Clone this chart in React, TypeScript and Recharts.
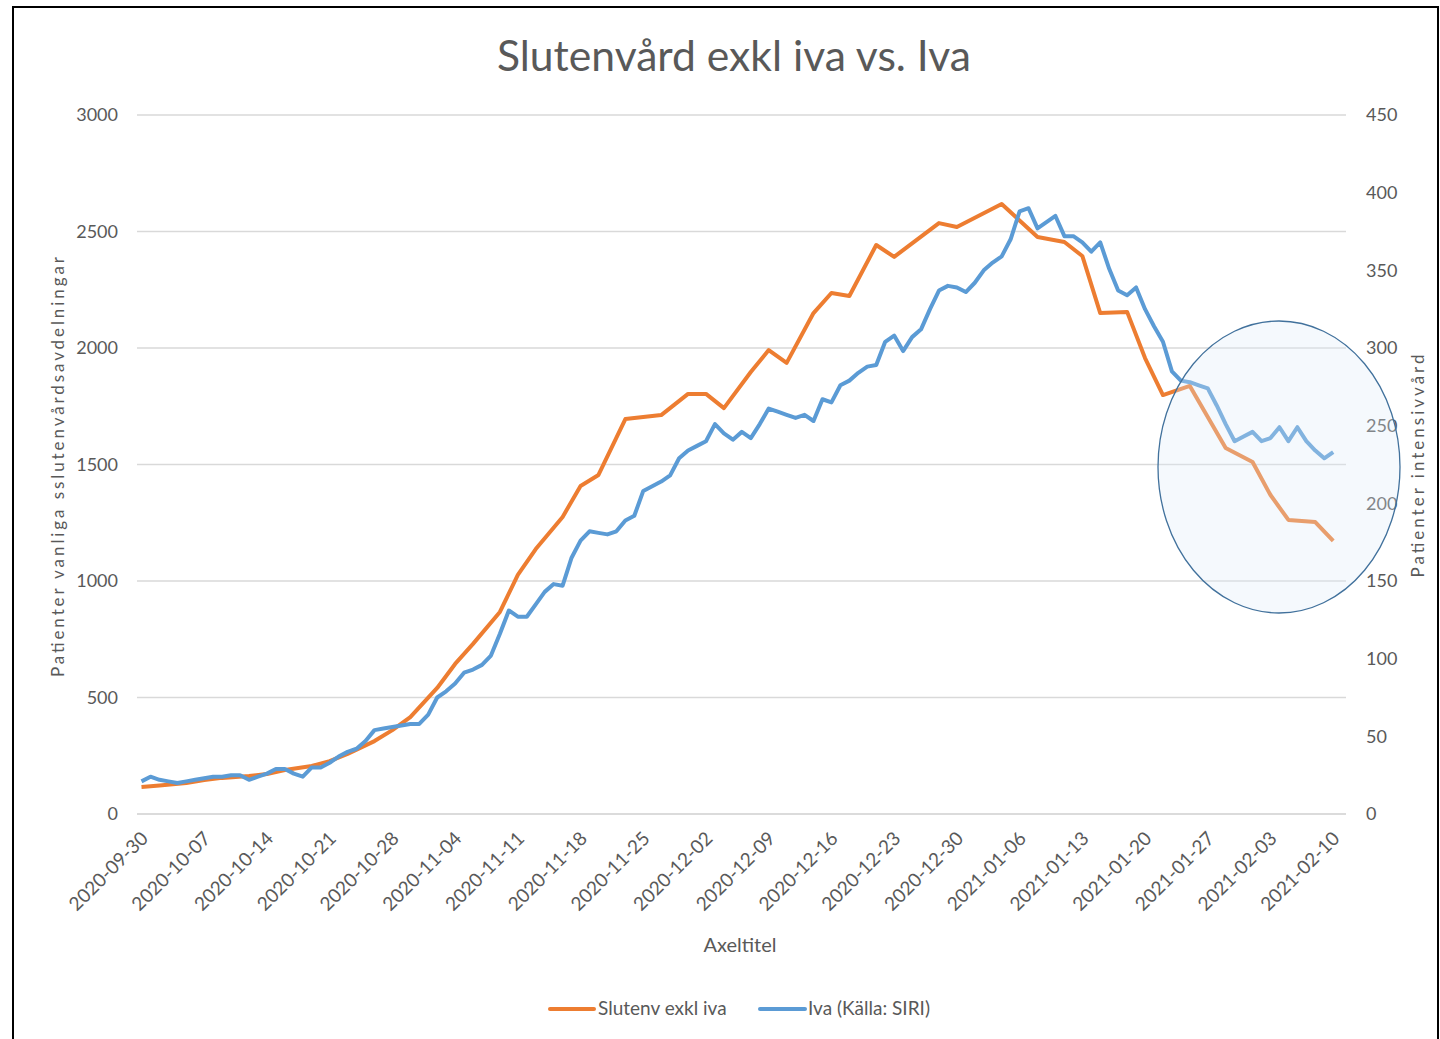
import React from 'react';
import { LineChart, Line, XAxis, YAxis, CartesianGrid } from 'recharts';

// one category per day, 2020-09-30 .. 2021-02-10
const dates: string[] = [];
for (let d = new Date(Date.UTC(2020, 8, 30)); d <= new Date(Date.UTC(2021, 1, 10)); d.setUTCDate(d.getUTCDate() + 1)) {
  dates.push(d.toISOString().slice(0, 10));
}

const tickDates = [
  '2020-09-30', '2020-10-07', '2020-10-14', '2020-10-21', '2020-10-28', '2020-11-04', '2020-11-11',
  '2020-11-18', '2020-11-25', '2020-12-02', '2020-12-09', '2020-12-16', '2020-12-23', '2020-12-30',
  '2021-01-06', '2021-01-13', '2021-01-20', '2021-01-27', '2021-02-03', '2021-02-10',
];

const leftTicks = [0, 500, 1000, 1500, 2000, 2500, 3000];
const rightTicks = [0, 50, 100, 150, 200, 250, 300, 350, 400, 450];

// Slutenvård exkl iva – reported on Mon/Wed/Fri only
const slutenvDates = [
  '2020-09-30', '2020-10-02', '2020-10-05', '2020-10-07', '2020-10-09', '2020-10-12', '2020-10-14',
  '2020-10-16', '2020-10-19', '2020-10-21', '2020-10-23', '2020-10-26', '2020-10-28', '2020-10-30',
  '2020-11-02', '2020-11-04', '2020-11-06', '2020-11-09', '2020-11-11', '2020-11-13', '2020-11-16',
  '2020-11-18', '2020-11-20', '2020-11-23', '2020-11-25', '2020-11-27', '2020-11-30', '2020-12-02',
  '2020-12-04', '2020-12-07', '2020-12-09', '2020-12-11', '2020-12-14', '2020-12-16', '2020-12-18',
  '2020-12-21', '2020-12-23', '2020-12-28', '2020-12-30', '2021-01-04', '2021-01-08', '2021-01-11',
  '2021-01-13', '2021-01-15', '2021-01-18', '2021-01-20', '2021-01-22', '2021-01-25', '2021-01-29',
  '2021-02-01', '2021-02-03', '2021-02-05', '2021-02-08', '2021-02-10',
];
const slutenvValues = [
  116, 122, 133, 146, 155, 163, 172,
  189, 206, 227, 258, 313, 360, 416,
  541, 644, 730, 867, 1026, 1137, 1275,
  1408, 1455, 1695, 1704, 1712, 1803, 1803,
  1742, 1897, 1991, 1936, 2150, 2236, 2223,
  2442, 2391, 2536, 2519, 2618, 2476, 2455,
  2395, 2150, 2155, 1957, 1798, 1837, 1571,
  1511, 1369, 1262, 1253, 1172,
];

// Iva (Källa: SIRI) – daily
const ivaValues = [
  21, 24, 22, 21, 20, 21, 22, 23, 24, 24, 25, 25, 22, 24,
  26, 29, 29, 26, 24, 30, 30, 33, 37, 40, 42, 47, 54, 55,
  56, 57, 58, 58, 64, 75, 79, 84, 91, 93, 96, 102, 116, 131,
  127, 127, 135, 143, 148, 147, 165, 176, 182, 181, 180, 182, 189, 192,
  208, 211, 214, 218, 229, 234, 237, 240, 251, 245, 241, 246, 242, 251,
  261, 259, 257, 255, 257, 253, 267, 265, 276, 279, 284, 288, 289, 304,
  308, 298, 307, 312, 325, 337, 340, 339, 336, 342, 350, 355, 359, 370,
  388, 390, 377, 381, 385, 372, 372, 368, 362, 368, 351, 337, 334, 339,
  325, 314, 304, 285, 279, 278, 276, 274, 263, 251, 240, 243, 246, 240,
  242, 249, 240, 249, 240, 234, 229, 233,
];

const data = dates.map((date, i) => {
  const k = slutenvDates.indexOf(date);
  return { date, slutenv: k >= 0 ? slutenvValues[k] : null, iva: ivaValues[i] };
});

const ORANGE = '#ED7D31';
const BLUE = '#5B9BD5';
const TEXT = '#595959';
const FONT = 'Lato, "Open Sans", sans-serif';

const DateTick = ({ x, y, payload }: any) => (
  <text
    x={x + 3}
    y={y}
    dy="0.35em"
    textAnchor="end"
    transform={`rotate(-45, ${x + 3}, ${y})`}
    fill={TEXT}
    fontSize={19}
    fontFamily={FONT}
  >
    {payload.value}
  </text>
);

export default function App() {
  return (
    <div style={{ position: 'absolute', left: 0, top: 0, width: 1440, height: 1039, background: '#fff', overflow: 'hidden' }}>
      <LineChart width={1440} height={1039} data={data} margin={{ top: 115, right: 34, bottom: 105, left: 77 }}>
        <CartesianGrid yAxisId="left" vertical={false} stroke="#D9D9D9" strokeWidth={1.5} />
        <XAxis
          dataKey="date"
          ticks={tickDates}
          interval={0}
          height={120}
          padding={{ left: 4.5, right: 12.8 }}
          axisLine={{ stroke: '#D9D9D9', strokeWidth: 1.5 }}
          tickLine={false}
          tickMargin={15}
          tick={<DateTick />}
        />
        <YAxis
          yAxisId="left"
          width={60}
          domain={[0, 3000]}
          ticks={leftTicks}
          axisLine={false}
          tickLine={false}
          tickMargin={13}
          tick={{ fill: TEXT, fontSize: 18, fontFamily: FONT }}
        />
        <YAxis
          yAxisId="right"
          orientation="right"
          width={60}
          domain={[0, 450]}
          ticks={rightTicks}
          axisLine={false}
          tickLine={false}
          tickMargin={14}
          tick={{ fill: TEXT, fontSize: 18, fontFamily: FONT, textAnchor: 'start' }}
        />
        <Line
          yAxisId="left"
          type="linear"
          dataKey="slutenv"
          name="Slutenv exkl iva"
          stroke={ORANGE}
          strokeWidth={4}
          strokeLinejoin="round"
          dot={false}
          connectNulls
          isAnimationActive={false}
        />
        <Line
          yAxisId="right"
          type="linear"
          dataKey="iva"
          name="Iva (Källa: SIRI)"
          stroke={BLUE}
          strokeWidth={4}
          strokeLinejoin="round"
          dot={false}
          isAnimationActive={false}
        />
      </LineChart>

      {/* titles, highlight ellipse, legend, frame */}
      <svg width={1440} height={1039} style={{ position: 'absolute', left: 0, top: 0, pointerEvents: 'none' }} fontFamily={FONT}>
        <rect x={13} y={7} width={1425} height={1045} fill="none" stroke="#000" strokeWidth={2} />
        <text x={734} y={71} textAnchor="middle" fontSize={43} fill={TEXT} textLength={474} lengthAdjust="spacingAndGlyphs">
          Slutenvård exkl iva vs. Iva
        </text>
        <text x={64} y={467} transform="rotate(-90, 64, 467)" textAnchor="middle" fontSize={17} fill={TEXT} textLength={420} lengthAdjust="spacing">
          Patienter vanliga sslutenvårdsavdelningar
        </text>
        <text x={1424} y={466} transform="rotate(-90, 1424, 466)" textAnchor="middle" fontSize={17} fill={TEXT} textLength={223} lengthAdjust="spacing">
          Patienter intensivvård
        </text>
        <text x={740} y={952} textAnchor="middle" fontSize={20} fill={TEXT}>
          Axeltitel
        </text>
        <ellipse cx={1279} cy={467} rx={121} ry={146} fill="#DEEBF7" fillOpacity={0.3} stroke="#41719C" strokeWidth={1.3} />
        <line x1={550} y1={1009} x2={594} y2={1009} stroke={ORANGE} strokeWidth={4} strokeLinecap="round" />
        <text x={598} y={1015} fontSize={19} fill={TEXT}>Slutenv exkl iva</text>
        <line x1={760} y1={1009} x2={805} y2={1009} stroke={BLUE} strokeWidth={4} strokeLinecap="round" />
        <text x={808} y={1015} fontSize={19} fill={TEXT}>Iva (Källa: SIRI)</text>
      </svg>
    </div>
  );
}
